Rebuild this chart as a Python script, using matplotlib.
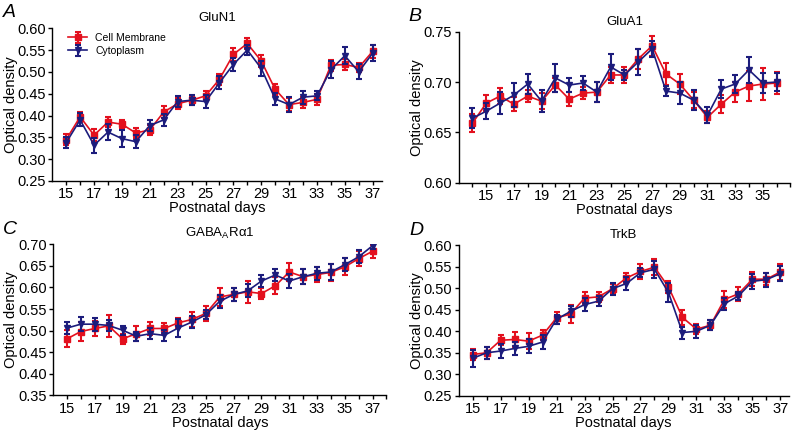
import matplotlib.pyplot as plt

plt.rcParams['font.family'] = ['Liberation Sans', 'DejaVu Sans']

# Data
days_a = list(range(15, 38))
days_b = list(range(14, 37))

glun1_mem = [0.345, 0.397, 0.355, 0.385, 0.380, 0.360, 0.367, 0.408, 0.427, 0.435, 0.445, 0.483,
             0.540, 0.565, 0.525, 0.460, 0.425, 0.430, 0.437, 0.515, 0.517, 0.510, 0.547]
glun1_mem_err = [0.012, 0.012, 0.014, 0.012, 0.010, 0.012, 0.012, 0.013, 0.012, 0.010, 0.012, 0.012,
                 0.015, 0.012, 0.013, 0.012, 0.015, 0.012, 0.013, 0.012, 0.012, 0.010, 0.015]
glun1_cyt = [0.338, 0.390, 0.332, 0.362, 0.347, 0.340, 0.377, 0.390, 0.432, 0.435, 0.432, 0.475,
             0.517, 0.550, 0.508, 0.438, 0.425, 0.442, 0.445, 0.505, 0.537, 0.500, 0.543]
glun1_cyt_err = [0.013, 0.015, 0.017, 0.018, 0.020, 0.015, 0.013, 0.013, 0.013, 0.012, 0.015, 0.015,
                 0.015, 0.012, 0.018, 0.013, 0.018, 0.015, 0.010, 0.020, 0.020, 0.017, 0.018]

glua1_mem = [0.659, 0.679, 0.686, 0.678, 0.686, 0.681, 0.697, 0.683, 0.689, 0.690, 0.707, 0.707,
             0.723, 0.736, 0.708, 0.698, 0.682, 0.665, 0.678, 0.690, 0.696, 0.698, 0.699]
glua1_mem_err = [0.009, 0.008, 0.008, 0.007, 0.006, 0.008, 0.007, 0.007, 0.006, 0.010, 0.008, 0.008,
                 0.010, 0.010, 0.011, 0.010, 0.008, 0.006, 0.009, 0.010, 0.015, 0.016, 0.011]
glua1_cyt = [0.664, 0.671, 0.679, 0.687, 0.698, 0.681, 0.704, 0.697, 0.699, 0.690, 0.715, 0.707,
             0.720, 0.733, 0.691, 0.689, 0.682, 0.667, 0.693, 0.698, 0.712, 0.699, 0.700]
glua1_cyt_err = [0.010, 0.008, 0.011, 0.012, 0.010, 0.011, 0.014, 0.007, 0.007, 0.010, 0.013, 0.005,
                 0.013, 0.008, 0.005, 0.011, 0.010, 0.008, 0.009, 0.009, 0.013, 0.010, 0.009]

gaba_mem = [0.481, 0.498, 0.505, 0.511, 0.481, 0.493, 0.505, 0.505, 0.518, 0.526, 0.540, 0.578,
            0.584, 0.590, 0.586, 0.604, 0.636, 0.625, 0.630, 0.635, 0.648, 0.667, 0.684]
gaba_mem_err = [0.020, 0.022, 0.018, 0.025, 0.012, 0.018, 0.014, 0.012, 0.012, 0.018, 0.018, 0.020,
                0.015, 0.025, 0.012, 0.020, 0.020, 0.018, 0.018, 0.020, 0.020, 0.018, 0.015]
gaba_cyt = [0.506, 0.515, 0.515, 0.512, 0.501, 0.487, 0.493, 0.489, 0.506, 0.520, 0.537, 0.568,
            0.584, 0.592, 0.615, 0.629, 0.615, 0.625, 0.633, 0.636, 0.653, 0.671, 0.697]
gaba_cyt_err = [0.014, 0.016, 0.015, 0.012, 0.010, 0.010, 0.012, 0.012, 0.020, 0.015, 0.010, 0.015,
                0.015, 0.015, 0.014, 0.015, 0.016, 0.018, 0.015, 0.018, 0.015, 0.015, 0.008]

trkb_mem = [0.346, 0.350, 0.379, 0.381, 0.377, 0.391, 0.431, 0.440, 0.477, 0.480, 0.499, 0.524,
            0.539, 0.549, 0.503, 0.432, 0.405, 0.414, 0.474, 0.487, 0.521, 0.521, 0.538]
trkb_mem_err = [0.012, 0.014, 0.012, 0.018, 0.018, 0.012, 0.014, 0.020, 0.014, 0.012, 0.012, 0.012,
                0.017, 0.018, 0.013, 0.018, 0.012, 0.012, 0.020, 0.016, 0.016, 0.014, 0.018]
trkb_cyt = [0.337, 0.350, 0.354, 0.360, 0.365, 0.375, 0.428, 0.446, 0.462, 0.470, 0.499, 0.511,
            0.536, 0.544, 0.490, 0.397, 0.400, 0.414, 0.464, 0.482, 0.516, 0.520, 0.534]
trkb_cyt_err = [0.020, 0.014, 0.016, 0.016, 0.016, 0.016, 0.010, 0.012, 0.016, 0.012, 0.014, 0.014,
                0.010, 0.020, 0.022, 0.014, 0.015, 0.012, 0.014, 0.010, 0.018, 0.016, 0.018]

red = '#e3101e'
blue = '#1c1c7c'

fig = plt.figure(figsize=(7.92, 4.34), dpi=100)

panels = [
    # rect, letter, title, days, mem, mem_err, cyt, cyt_err, ylim, yticks, xlim, xticks
    ([0.066, 0.583, 0.416, 0.352], 'A', 'GluN1', days_a, glun1_mem, glun1_mem_err, glun1_cyt, glun1_cyt_err,
     (0.25, 0.60), [0.25 + 0.05 * i for i in range(8)], (14, 37.65), range(15, 38, 2)),
    ([0.579, 0.579, 0.419, 0.348], 'B', 'GluA1', days_b, glua1_mem, glua1_mem_err, glua1_cyt, glua1_cyt_err,
     (0.60, 0.75), [0.60, 0.65, 0.70, 0.75], (13, 37), range(15, 36, 2)),
    ([0.067, 0.089, 0.421, 0.348], 'C', 'GABA$_\\mathregular{A}$Rα1', days_a, gaba_mem, gaba_mem_err, gaba_cyt, gaba_cyt_err,
     (0.35, 0.70), [0.35 + 0.05 * i for i in range(8)], (14, 38), range(15, 38, 2)),
    ([0.579, 0.088, 0.417, 0.347], 'D', 'TrkB', days_a, trkb_mem, trkb_mem_err, trkb_cyt, trkb_cyt_err,
     (0.25, 0.60), [0.25 + 0.05 * i for i in range(8)], (14, 37.6), range(15, 38, 2)),
]

for rect, letter, title, days, mem, mem_err, cyt, cyt_err, ylim, yticks, xlim, xticks in panels:
    ax = fig.add_axes(rect)
    ax.errorbar(days, mem, yerr=mem_err, color=red, marker='s', markersize=4, linewidth=1.2,
                elinewidth=1.5, capsize=2.5, capthick=1.5, label='Cell Membrane', zorder=2)
    ax.errorbar(days, cyt, yerr=cyt_err, color=blue, marker='v', markersize=4, linewidth=1.2,
                elinewidth=1.5, capsize=2.5, capthick=1.5, label='Cytoplasm', zorder=3)
    ax.set_xlim(*xlim)
    ax.set_ylim(*ylim)
    ax.set_xticks(list(xticks))
    ax.set_xticks(list(range(int(xlim[0]) + 1, int(xlim[1]) + 1)), minor=True)
    ax.set_yticks(yticks)
    ax.set_yticklabels(['%.2f' % v for v in yticks])
    ax.tick_params(axis='both', which='major', labelsize=10.5, length=3, width=1, direction='out')
    ax.tick_params(axis='x', which='major', pad=1.5)
    ax.tick_params(axis='y', which='major', pad=1.5)
    ax.tick_params(axis='x', which='minor', length=3, width=1, direction='out')
    for s in ['top', 'right']:
        ax.spines[s].set_visible(False)
    for s in ['left', 'bottom']:
        ax.spines[s].set_linewidth(1)
    ax.set_xlabel('Postnatal days', fontsize=10.5, labelpad=0)
    ax.set_ylabel('Optical density', fontsize=10.5)
    ax.yaxis.set_label_coords(-0.105, 0.5)
    ax.set_title(title, fontsize=9.5, pad=5)
    ax.text(-0.15, 1.1, letter, transform=ax.transAxes, fontsize=14, style='italic',
            ha='left', va='center')
    if letter == 'A':
        ax.legend(loc='upper left', bbox_to_anchor=(0.02, 1.03), frameon=False, fontsize=7.5,
                  handlelength=1.8, handletextpad=0.8, labelspacing=0.3)

plt.savefig('out.png', dpi=100)
